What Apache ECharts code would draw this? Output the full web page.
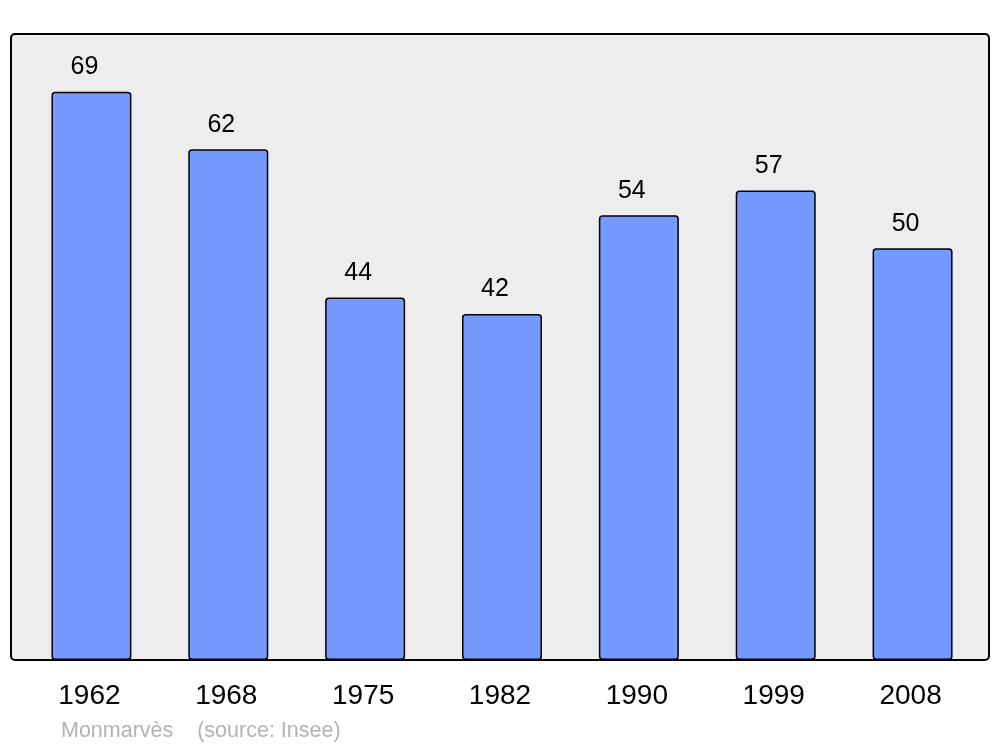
<!DOCTYPE html>
<html>
<head>
<meta charset="utf-8">
<script src="https://cdn.jsdelivr.net/npm/echarts@6/dist/echarts.min.js"></script>
<style>html,body{margin:0;padding:0;background:#fff}#c{width:1000px;height:747px}</style>
</head>
<body>
<div id="c"></div>
<script>
const years = ['1962','1968','1975','1982','1990','1999','2008'];
const population = [69, 62, 44, 42, 54, 57, 50];
const sourceText = 'Monmarvès    (source: Insee)';

const chart = echarts.init(document.getElementById('c'), null, {renderer: 'canvas'});
chart.setOption({
  backgroundColor: '#ffffff',
  animation: false,
  graphic: [
    {type: 'rect', z: -10, shape: {x: 11, y: 34, width: 978, height: 626, r: 4},
     style: {fill: '#ededed', stroke: '#000', lineWidth: 2}},
    {type: 'text', left: 61, top: 720, style: {text: sourceText, fill: '#b3b3b3', font: '21.5px "Liberation Sans", Arial, sans-serif'}}
  ],
  grid: {left: 23, right: 19, top: 34, bottom: 87},
  xAxis: {
    type: 'category', data: years,
    axisLine: {show: false}, axisTick: {show: false},
    axisLabel: {color: '#000', fontSize: 28, fontFamily: '"Liberation Sans", Arial, sans-serif', margin: 22, padding: [0, 4, 0, 0]}
  },
  yAxis: {type: 'value', min: 0, max: 76, show: false, splitLine: {show: false}},
  series: [{
    type: 'bar', data: population, barWidth: 80,
    itemStyle: {color: '#7499ff', borderColor: '#000', borderWidth: 1.5, borderRadius: 3},
    label: {show: true, position: 'top', distance: 12, offset: [-7, 0], color: '#000', fontSize: 25, fontFamily: '"Liberation Sans", Arial, sans-serif'}
  }]
});
</script>
</body>
</html>
